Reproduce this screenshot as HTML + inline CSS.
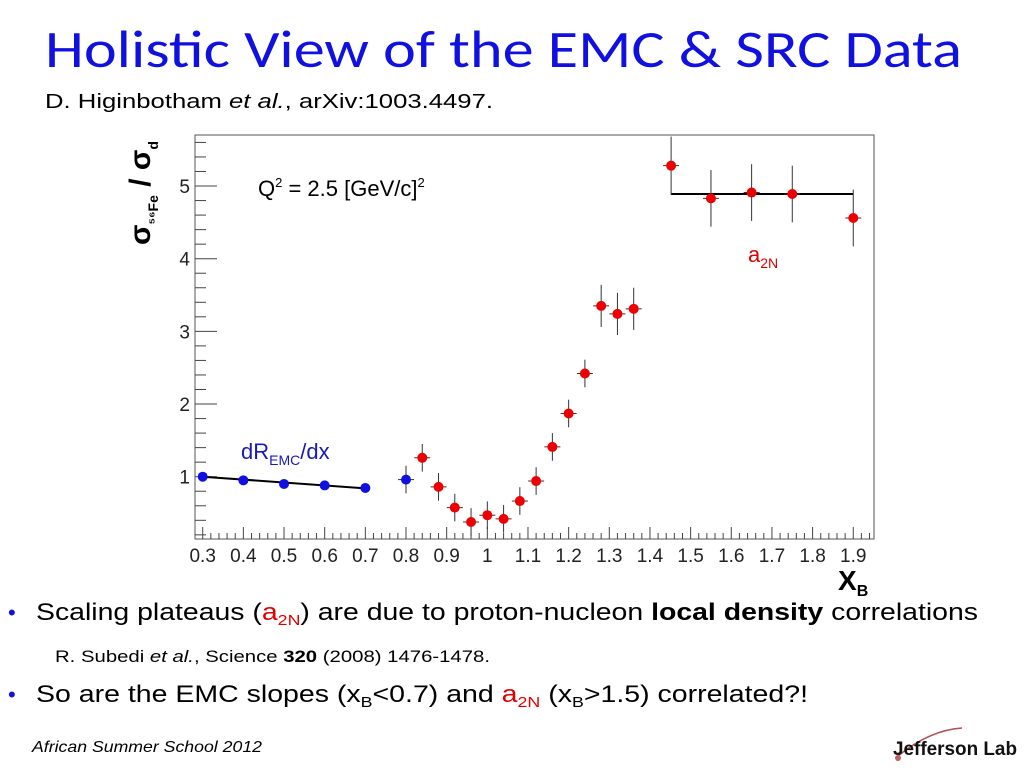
<!DOCTYPE html>
<html><head><meta charset="utf-8"><style>
html,body{margin:0;padding:0;background:#fff;width:1024px;height:768px;overflow:hidden}
svg{display:block}
</style></head><body>
<svg id="s" width="1024" height="768" viewBox="0 0 1024 768" xmlns="http://www.w3.org/2000/svg" font-family="Liberation Sans, sans-serif">
<text x="45" y="67" font-family="Carlito, Liberation Sans, sans-serif" font-size="52" fill="#1010e0" textLength="917" lengthAdjust="spacingAndGlyphs">Holistic View of the EMC &amp; SRC Data</text>
<text x="45" y="108" font-size="20" fill="#000" textLength="448" lengthAdjust="spacingAndGlyphs">D. Higinbotham <tspan font-style="italic">et al.</tspan>, arXiv:1003.4497.</text>
<g id="plot"></g>
<text transform="translate(150,245) rotate(-90)" font-size="30" font-weight="bold" fill="#000">σ<tspan font-size="14" dy="8">⁵⁶Fe</tspan><tspan dy="-8"> / σ</tspan><tspan font-size="14" dy="8">d</tspan></text>
<text x="838" y="590" font-size="28" font-weight="bold" fill="#000">X<tspan font-size="16" dy="6">B</tspan></text>
<text x="258" y="196" font-size="22" fill="#000">Q<tspan font-size="13" dy="-9">2</tspan><tspan dy="9"> = 2.5 [GeV/c]</tspan><tspan font-size="13" dy="-9">2</tspan></text>
<text x="241" y="459" font-size="22" fill="#1a1ab0">dR<tspan font-size="14" dy="6">EMC</tspan><tspan dy="-6">/dx</tspan></text>
<text x="748" y="262" font-size="22" fill="#e00000">a<tspan font-size="14" dy="6">2N</tspan></text>
<text x="8" y="620" font-size="22" fill="#1010e0">•</text>
<text x="36" y="620" font-size="24" fill="#000" textLength="942" lengthAdjust="spacingAndGlyphs">Scaling plateaus (<tspan fill="#e00000">a<tspan font-size="15" dy="5">2N</tspan></tspan><tspan dy="-5">) are due to proton-nucleon </tspan><tspan font-weight="bold">local density</tspan> correlations</text>
<text x="55" y="662" font-size="17" fill="#000" textLength="435" lengthAdjust="spacingAndGlyphs">R. Subedi <tspan font-style="italic">et al.</tspan>, Science <tspan font-weight="bold">320</tspan> (2008) 1476-1478.</text>
<text x="8" y="702" font-size="22" fill="#1010e0">•</text>
<text x="36" y="702" font-size="24" fill="#000" textLength="772" lengthAdjust="spacingAndGlyphs">So are the EMC slopes (x<tspan font-size="15" dy="5">B</tspan><tspan dy="-5">&lt;0.7) and </tspan><tspan fill="#e00000">a<tspan font-size="15" dy="5">2N</tspan></tspan><tspan dy="-5"> (x</tspan><tspan font-size="15" dy="5">B</tspan><tspan dy="-5">&gt;1.5) correlated?!</tspan></text>
<text x="32" y="752" font-size="16" font-style="italic" fill="#000" textLength="230" lengthAdjust="spacingAndGlyphs">African Summer School 2012</text>
<g>
<path d="M898 756 Q930 730 962 728" stroke="#b05050" stroke-width="1.5" fill="none"/>
<circle cx="898" cy="758" r="3" fill="#c06060"/>
<text x="893" y="755" font-size="19" font-weight="bold" fill="#111" textLength="124" lengthAdjust="spacingAndGlyphs">Jefferson Lab</text>
</g>
</svg>
<script>
const blueX=[0.3,0.4,0.5,0.6,0.7,0.8];
const blueY=[1.0,0.95,0.90,0.88,0.845,0.96];
const blueErr=[0,0,0,0,0,0.19];
const redX=[0.84,0.88,0.92,0.96,1.0,1.04,1.08,1.12,1.16,1.20,1.24,1.28,1.32,1.36,1.452,1.55,1.65,1.75,1.9];
const redY=[1.26,0.86,0.575,0.377,0.47,0.42,0.665,0.94,1.41,1.87,2.42,3.35,3.24,3.31,5.28,4.83,4.91,4.89,4.56];
const redErr=[0.19,0.19,0.19,0.19,0.19,0.19,0.19,0.19,0.19,0.19,0.19,0.29,0.29,0.29,0.4,0.39,0.39,0.39,0.39];
const emcFitX=[0.3,0.7];const emcFitY=[1.0,0.84];
const a2nFitX=[1.452,1.9];const a2nFitY=[4.89,4.89];
const xTicks=[0.3,0.4,0.5,0.6,0.7,0.8,0.9,1,1.1,1.2,1.3,1.4,1.5,1.6,1.7,1.8,1.9];
const yTicks=[1,2,3,4,5];
const X0=195,X1=874,Y0=135,Y1=539;
const sx=v=>202.7+(v-0.3)*406.6;
const sy=v=>476.7-(v-1)*72.67;
const NS='http://www.w3.org/2000/svg';
const g=document.getElementById('plot');
function el(t,a){const e=document.createElementNS(NS,t);for(const k in a)e.setAttribute(k,a[k]);g.appendChild(e);return e;}
let f=el('rect',{x:X0,y:Y0,width:X1-X0,height:Y1-Y0,fill:'none',stroke:'#555','stroke-width':1});


for(let v=0.28;v<=1.95;v+=0.02){const vv=Math.round(v*100)/100;const x=sx(vv);if(x<X0||x>X1)continue;const major=Math.abs(vv*10-Math.round(vv*10))<1e-6;
 const t=el('line',{x1:x,x2:x,y1:Y1,y2:Y1-(major?12:6),stroke:'#444'});
 
 }
xTicks.forEach(v=>{const t=el('text',{x:sx(v),y:562,'font-size':19,'text-anchor':'middle',fill:'#222'});t.textContent=String(v);
 
 });
for(let i=1;i<=28;i++){const v=Math.round(i*2)/10;const y=sy(v);if(y<Y0||y>Y1)continue;const major=Math.abs(v-Math.round(v))<1e-6;
 const t=el('line',{x1:X0,x2:X0+(major?22:11),y1:y,y2:y,stroke:'#444'});
 
 }
yTicks.forEach(v=>{const t=el('text',{x:190,y:sy(v)+7,'font-size':19,'text-anchor':'end',fill:'#222'});t.textContent=String(v);
 
 });
let l1=el('line',{x1:sx(emcFitX[0]),y1:sy(emcFitY[0]),x2:sx(emcFitX[1]),y2:sy(emcFitY[1]),stroke:'#000','stroke-width':2});


let l2=el('line',{x1:sx(a2nFitX[0]),y1:sy(a2nFitY[0]),x2:sx(a2nFitX[1]),y2:sy(a2nFitY[1]),stroke:'#000','stroke-width':2});


function pts(xs,ys,es,col,name,xe){xs.forEach((v,i)=>{const x=sx(v),y=sy(ys[i]);
 if(es[i]>0){const a=el('line',{x1:x,x2:x,y1:sy(ys[i]-es[i]),y2:sy(ys[i]+es[i]),stroke:'#333'});}
 if(xe[i]){const b=el('line',{x1:x-8,x2:x+8,y1:y,y2:y,stroke:'#333'});}
 const c=el('circle',{cx:x,cy:y,r:5,fill:col});
 
 });}
pts(blueX,blueY,blueErr,'#1010e0','emc-point',blueX.map((v,i)=>i==5));
pts(redX,redY,redErr,'#ee0000','src-point',redX.map(()=>true));
</script>
</body></html>
